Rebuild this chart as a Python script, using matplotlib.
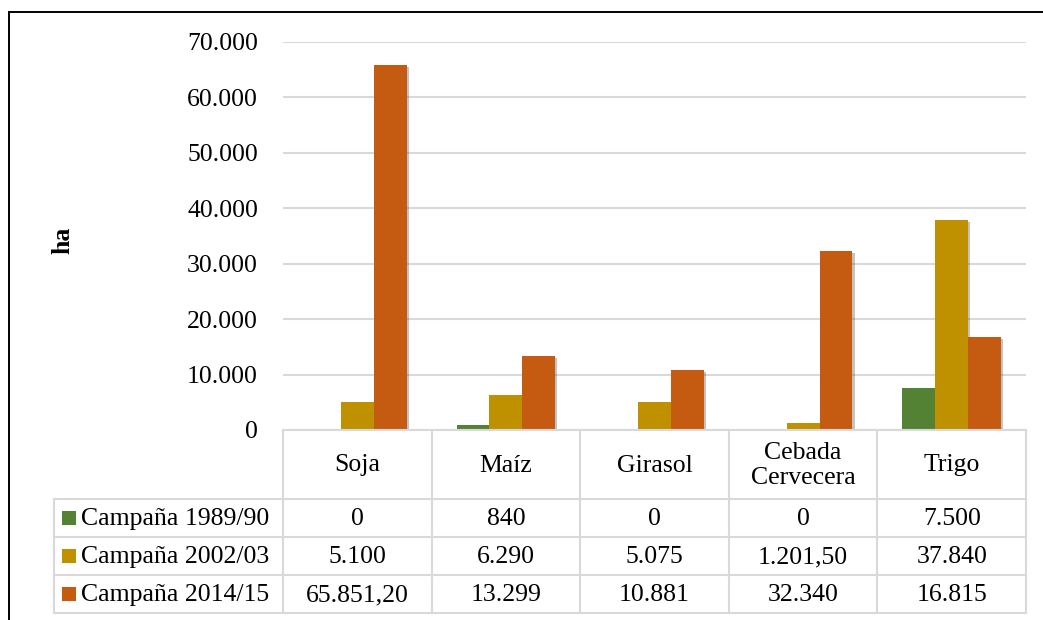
import matplotlib
matplotlib.use("Agg")
import matplotlib.pyplot as plt
from matplotlib.lines import Line2D
from matplotlib.patches import Rectangle
from matplotlib.transforms import blended_transform_factory
import matplotlib.patheffects as pe

plt.rcParams['font.family'] = ['Liberation Serif', 'DejaVu Serif']

# Data ------------------------------------------------------------------
cultivos = ["Soja", "Maíz", "Girasol", "Cebada\nCervecera", "Trigo"]
campanias = ["Campaña 1989/90", "Campaña 2002/03", "Campaña 2014/15"]
sup_1989 = [0, 840, 0, 0, 7500]
sup_2002 = [5100, 6290, 5075, 1201.5, 37840]
sup_2014 = [65851.2, 13299, 10881, 32340, 16815]
series = [sup_1989, sup_2002, sup_2014]
colores = ["#548235", "#BF9000", "#C55A11"]
y_ticks = [0, 10000, 20000, 30000, 40000, 50000, 60000, 70000]


def fmt_es(v):
    """Number with dot thousands separator and comma decimals."""
    if float(v).is_integer():
        return f"{int(v):,}".replace(",", ".")
    s = f"{v:,.2f}"
    return s.replace(",", "X").replace(".", ",").replace("X", ".")


W, H = 1043, 620
FS = 18.5
GRID = "#D9D9D9"

fig = plt.figure(figsize=(W / 100, H / 100), dpi=100)


def fx(px):
    return px / W


def fy(py):
    return 1 - py / H


y0_px, y1_px = 430, 41.7
ax = fig.add_axes([fx(283), fy(y0_px), fx(1026) - fx(283), (y0_px - y1_px) / H])
ax.set_xlim(-0.5, len(cultivos) - 0.5)
ax.set_ylim(0, 70000)

bar_w = 33 / 149
shadow = [pe.SimplePatchShadow(offset=(1.5, -1.5), shadow_rgbFace="#555555", alpha=0.35),
          pe.Normal()]
for j, (vals, col) in enumerate(zip(series, colores)):
    xs = [i + (j - 1) * bar_w for i in range(len(cultivos))]
    bars = ax.bar(xs, vals, width=bar_w, color=col, zorder=3)
    for b in bars:
        if b.get_height() > 0:
            b.set_path_effects(shadow)

ax.set_yticks(y_ticks)
ax.set_yticklabels([fmt_es(t) for t in y_ticks], fontsize=FS)
ax.tick_params(axis="y", length=0, pad=18)
ax.set_xticks([])
ax.yaxis.grid(True, color=GRID, linewidth=1.5, zorder=0)
for s in ax.spines.values():
    s.set_visible(False)

fig.text(fx(63), fy(240), "ha", rotation=90, fontsize=FS, fontweight="bold",
         ha="center", va="center")

# Data table under the axis --------------------------------------------
tr = blended_transform_factory(ax.transData, fig.transFigure)
row_lines = [430, 499, 537, 575.3, 613.3]
n = len(cultivos)

for r, ypx in enumerate(row_lines):
    x_start = fx(54) if r >= 1 else fx(283)
    fig.add_artist(Line2D([x_start, fx(1026)], [fy(ypx), fy(ypx)],
                          color=GRID, lw=1.5, transform=fig.transFigure))
for k in range(n + 1):
    fig.add_artist(Line2D([k - 0.5, k - 0.5], [fy(row_lines[0]), fy(row_lines[-1])],
                          color=GRID, lw=1.5, transform=tr))
fig.add_artist(Line2D([fx(54), fx(54)], [fy(row_lines[1]), fy(row_lines[-1])],
                      color=GRID, lw=1.5, transform=fig.transFigure))

hdr_y = fy((row_lines[0] + row_lines[1]) / 2 + 1)
for i, c in enumerate(cultivos):
    fig.text(i, hdr_y, c, transform=tr, ha="center", va="center",
             fontsize=FS, linespacing=1.12)

for j, (vals, col, name) in enumerate(zip(series, colores, campanias)):
    yc = (row_lines[j + 1] + row_lines[j + 2]) / 2
    fig.add_artist(Rectangle((fx(62), fy(yc + 7)), fx(14), 14 / H,
                             facecolor=col, edgecolor="none",
                             transform=fig.transFigure))
    fig.text(fx(81), fy(yc + 1), name, ha="left", va="center", fontsize=FS)
    for i, v in enumerate(vals):
        fig.text(i, fy(yc + 1), fmt_es(v), transform=tr, ha="center",
                 va="center", fontsize=FS)

# Outer frame
fig.add_artist(Rectangle((fx(9), -0.05), 1.1, fy(12) + 0.05, fill=False,
                         edgecolor="black", lw=1.4, transform=fig.transFigure))

fig.savefig("out.png", dpi=100)
